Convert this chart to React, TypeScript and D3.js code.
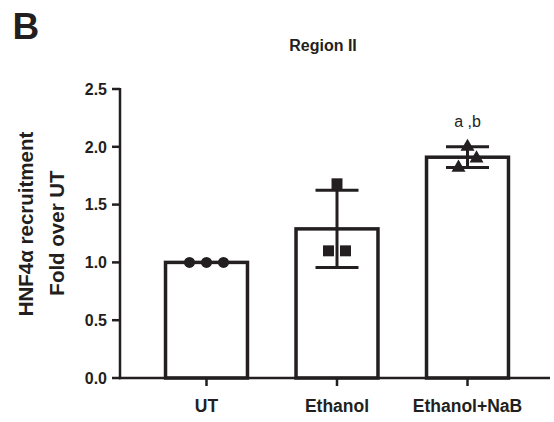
import * as d3 from "d3";

const categories = ["UT", "Ethanol", "Ethanol+NaB"];
const means = [1.0, 1.29, 1.91];
const sds = [0, 0.335, 0.09];
const points = [
  [1.0, 1.0, 1.0],
  [1.68, 1.1, 1.1],
  [2.0, 1.9, 1.82],
];
const pointOffsets = [
  [-17, 0, 17],
  [0, -8.5, 8.5],
  [0, 9, -9],
];
const shapes = [d3.symbolCircle, d3.symbolSquare, d3.symbolTriangle];
const yTicks = [0, 0.5, 1.0, 1.5, 2.0, 2.5];

const ink = "#231f20";
const font = "'Liberation Sans', Arial, Helvetica, sans-serif";

export default function App() {
  const width = 554;
  const height = 422;
  const x = d3
    .scaleBand()
    .domain(categories)
    .range([141.25, 532.75])
    .paddingInner(0.372)
    .paddingOuter(0.186);
  const y = d3.scaleLinear().domain([0, 2.5]).range([378, 89]);
  const bw = x.bandwidth();
  const symbol = d3.symbol();

  return (
    <svg
      width={width}
      height={height}
      style={{ position: "absolute", left: 0, top: 0, background: "white" }}
      fontFamily={font}
    >
      <text x={12.5} y={38.5} fontSize={37} fontWeight="bold" fill={ink}>
        B
      </text>
      <text
        x={323}
        y={51}
        fontSize={16}
        fontWeight="bold"
        textAnchor="middle"
        fill={ink}
      >
        Region II
      </text>
      <g transform="rotate(-90)" fontSize={20.5} fontWeight="bold" fill={ink}>
        <text x={-224} y={33} textAnchor="middle">
          HNF4α recruitment
        </text>
        <text x={-233} y={64} textAnchor="middle">
          Fold over UT
        </text>
      </g>

      {/* bars */}
      {categories.map((c, i) => (
        <rect
          key={c}
          x={x(c)}
          y={y(means[i])}
          width={bw}
          height={y(0) - y(means[i])}
          fill="white"
          stroke={ink}
          strokeWidth={3.5}
        />
      ))}

      {/* error bars */}
      {categories.map((c, i) => {
        if (!sds[i]) return null;
        const cx = x(c) + bw / 2;
        const hi = y(means[i] + sds[i]);
        const lo = y(means[i] - sds[i]);
        return (
          <g key={c} stroke={ink} strokeWidth={3}>
            <line x1={cx} x2={cx} y1={hi} y2={lo} />
            <line x1={cx - 21.5} x2={cx + 21.5} y1={hi} y2={hi} />
            <line x1={cx - 21.5} x2={cx + 21.5} y1={lo} y2={lo} />
          </g>
        );
      })}

      {/* points */}
      {categories.map((c, i) =>
        points[i].map((v, j) => (
          <path
            key={c + j}
            transform={`translate(${x(c) + bw / 2 + pointOffsets[i][j]},${y(v)})`}
            d={symbol.type(shapes[i]).size(i === 0 ? 95 : i === 1 ? 120 : 85)()}
            fill={ink}
          />
        ))
      )}

      {/* y axis */}
      <line x1={120} x2={120} y1={y(2.5) - 1} y2={y(0) + 1.25} stroke={ink} strokeWidth={2.5} />
      {yTicks.map((t) => (
        <g key={t}>
          <line x1={112} x2={120} y1={y(t)} y2={y(t)} stroke={ink} strokeWidth={2.5} />
          <text
            x={107}
            y={y(t)}
            dy="0.36em"
            fontSize={16}
            fontWeight="bold"
            textAnchor="end"
            fill={ink}
          >
            {d3.format(".1f")(t)}
          </text>
        </g>
      ))}

      {/* x axis */}
      <line x1={118.75} x2={550} y1={y(0)} y2={y(0)} stroke={ink} strokeWidth={2.5} />
      {categories.map((c) => (
        <g key={c}>
          <line
            x1={x(c) + bw / 2}
            x2={x(c) + bw / 2}
            y1={y(0)}
            y2={y(0) + 8}
            stroke={ink}
            strokeWidth={2.5}
          />
          <text
            x={x(c) + bw / 2}
            y={412}
            fontSize={17.5}
            fontWeight="bold"
            textAnchor="middle"
            fill={ink}
          >
            {c}
          </text>
        </g>
      ))}

      <text
        x={x("Ethanol+NaB") + bw / 2}
        y={126.5}
        fontSize={16}
        textAnchor="middle"
        fill={ink}
      >
        a ,b
      </text>
    </svg>
  );
}
